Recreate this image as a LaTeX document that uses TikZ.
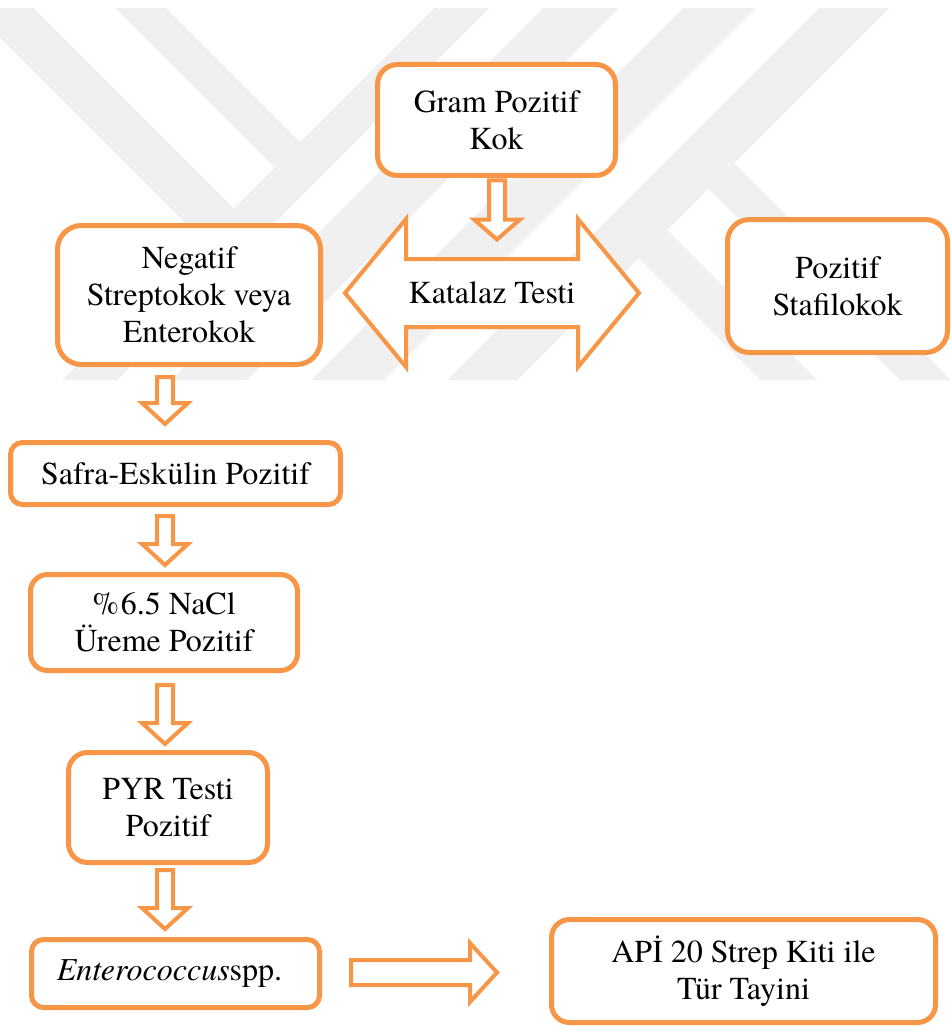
\documentclass[tikz,border=0pt]{standalone}
\usepackage{fontspec}
\setmainfont{texgyretermes-regular.otf}[ItalicFont=texgyretermes-italic.otf, BoldFont=texgyretermes-bold.otf]
\usetikzlibrary{calc}
\definecolor{orng}{RGB}{247,150,70}
\definecolor{wm}{RGB}{240,240,240}
\newcommand{\blkdown}[3]{%
  \draw[blk] (#1) ++(-8,0) -- ++(0,#2) -- ++(-15,0) -- ++(23,#3) -- ++(23,-#3) -- ++(-15,0) -- ++(0,-#2) -- cycle;}
\begin{document}
\begin{tikzpicture}[x=1pt,y=-1pt,
  box/.style={draw=orng, line width=5pt, fill=white, rounded corners=#1, inner sep=0pt, align=center, font=\fontsize{32}{37}\selectfont},
  box/.default=18pt,
  blk/.style={draw=orng, line width=4pt, fill=white, line join=miter},
  lbl/.style={inner sep=0pt, align=center, font=\fontsize{32}{37}\selectfont},
  wmark/.style={fill=wm, draw=none}]
\useasboundingbox (0,0) rectangle (952,1027);
\fill[white] (0,0) rectangle (952,1027);
% watermark
\begin{scope}
  \clip (0,8) rectangle (952,380);
  \fill[wmark] (-30,8) -- (33,8) -- (247.5,222.5) -- (216,254) -- cycle;
  \fill[wmark] (115,8) -- (166,8) -- (314,156) -- (288.5,181.5) -- cycle;
  \fill[wmark] (434,8) -- (489,8) -- (117,380) -- (62,380) -- cycle;
  \fill[wmark] (543,8) -- (619,8) -- (247,380) -- (171,380) -- cycle;
  \fill[wmark] (683,8) -- (756,8) -- (384,380) -- (311,380) -- cycle;
  \fill[wmark] (819,8) -- (889,8) -- (517,380) -- (447,380) -- cycle;
  \fill[wmark] (625,245) -- (653.5,216.5) -- (817,380) -- (760,380) -- cycle;
  \fill[wmark] (695,175) -- (720.5,149.5) -- (951,380) -- (900,380) -- cycle;
\end{scope}
% nodes
\node[box=20pt, minimum width=238pt, minimum height=111pt] (gram) at (496.5,120) {Gram Pozitif\\Kok};
\node[box=24pt, minimum width=263pt, minimum height=139pt] (neg) at (189,295) {Negatif\\Streptokok veya\\Enterokok};
\node[box=22pt, minimum width=220pt, minimum height=133pt] (pos) at (837.5,286) {Pozitif\\Stafilokok};
\node[box=12pt, minimum width=330pt, minimum height=62pt] (safra) at (175.5,473.5) {Safra-Eskülin Pozitif};
\node[box=17pt, minimum width=267pt, minimum height=96pt] (nacl) at (164,622.5) {\%\kern2pt6.5 NaCl\\Üreme Pozitif};
\node[box=19pt, minimum width=199pt, minimum height=110pt] (pyr) at (168,807.5) {PYR Testi\\Pozitif};
\node[box=12pt, minimum width=288pt, minimum height=68pt] (ent) at (175.5,973.5) {\textit{Enterococcus}spp.\hspace*{12pt}};
\node[box=18pt, minimum width=384pt, minimum height=103pt] (api) at (743.5,971) {APİ 20 Strep Kiti ile\\Tür Tayini};
% Katalaz double arrow
\coordinate (katc) at (492,293);
\draw[blk] ($(katc)+(-147,0)$) -- ++(61,-74) -- ++(0,40) -- ++(172,0) -- ++(0,-40) -- ++(61,74) -- ++(-61,74) -- ++(0,-40) -- ++(-172,0) -- ++(0,40) -- cycle;
\node[lbl] (kat) at (katc) {Katalaz Testi};
% down arrows
\coordinate (arrA) at ($(gram.south)+(0.5,2.5)$);
\coordinate (arrB) at (165,377);
\coordinate (arrC) at (165,516);
\coordinate (arrD) at (165,685);
\coordinate (arrE) at (165,870);
\blkdown{arrA}{39}{20}
\blkdown{arrB}{26}{21}
\blkdown{arrC}{28}{21}
\blkdown{arrD}{38}{21}
\blkdown{arrE}{38}{21}
% right arrow
\coordinate (arrH) at (351,972.5);
\draw[blk] (arrH) ++(0,-12.5) -- ++(119,0) -- ++(0,-17) -- ++(27,29.5) -- ++(-27,29.5) -- ++(0,-17) -- ++(-119,0) -- cycle;
\end{tikzpicture}
\end{document}
